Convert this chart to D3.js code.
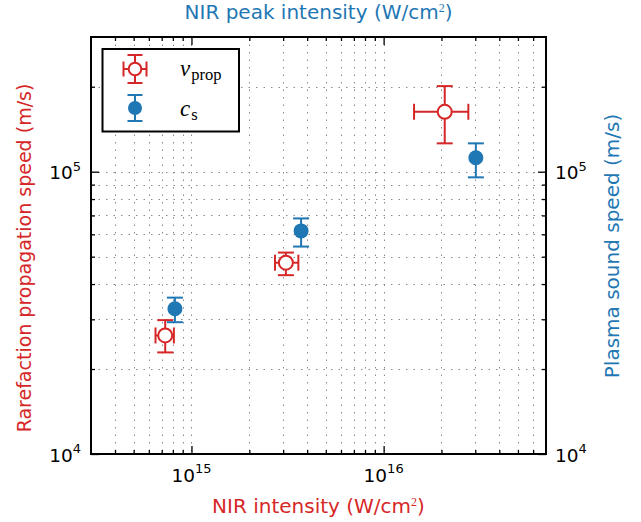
<!DOCTYPE html>
<html><head><meta charset="utf-8">
<script src="https://cdn.jsdelivr.net/npm/d3@7"></script>
<style>body{margin:0;background:#fff} svg{font-family:"DejaVu Sans",sans-serif}</style>
</head><body><svg id="c" width="641" height="522"></svg>
<script>
// ---- data ----
const seriesNames = ["v_prop", "c_s"];
const vpropX   = [7.3e14, 3.1e15, 2.08e16];
const vpropXLo = [6.5e14, 2.72e15, 1.44e16];
const vpropXHi = [8.1e14, 3.6e15, 2.76e16];
const vpropY   = [2.63e4, 4.76e4, 1.63e5];
const vpropYLo = [2.29e4, 4.30e4, 1.26e5];
const vpropYHi = [2.98e4, 5.17e4, 2.01e5];
const csX   = [8.2e14, 3.72e15, 3.02e16];
const csY   = [3.27e4, 6.17e4, 1.12e5];
const csYLo = [2.93e4, 5.43e4, 9.55e4];
const csYHi = [3.58e4, 6.83e4, 1.26e5];
const xDomain = [3e14, 7e16];
const yDomain = [1e4, 3e5];
const xTickLabels = [{v:1e15, b:"10", e:"15"}, {v:1e16, b:"10", e:"16"}];
const yTickLabels = [{v:1e4, b:"10", e:"4"}, {v:1e5, b:"10", e:"5"}];

const RED = "#d62728", BLUE = "#1f77b4";
const L = 91, R = 546, T = 37, B = 454;
const svg = d3.select("#c");
const x = d3.scaleLog().domain(xDomain).range([L, R]);
const y = d3.scaleLog().domain(yDomain).range([B, T]);

const isMajor = v => Math.abs(Math.log10(v) - Math.round(Math.log10(v))) < 1e-9;
const xt = x.ticks().filter(v => v > xDomain[0]*1.001 && v < xDomain[1]*0.999);
const yt = y.ticks().filter(v => v > yDomain[0]*1.001 && v < yDomain[1]*0.999);

// grid
const grid = svg.append("g").attr("stroke", "#8a8a8a").attr("stroke-width", 1).attr("stroke-dasharray", "1.5,6");
grid.selectAll("line.v").data(xt).join("line").attr("class","v")
  .attr("x1", d => Math.round(x(d))+0.5).attr("x2", d => Math.round(x(d))+0.5).attr("y1", T).attr("y2", B);
grid.selectAll("line.h").data(yt).join("line").attr("class","h")
  .attr("y1", d => Math.round(y(d))+0.5).attr("y2", d => Math.round(y(d))+0.5).attr("x1", L).attr("x2", R);

// data
function errbars(g, cx, cy, xlo, xhi, ylo, yhi, cap) {
  g.append("line").attr("x1", cx).attr("x2", cx).attr("y1", ylo).attr("y2", yhi);
  g.append("line").attr("x1", cx-cap).attr("x2", cx+cap).attr("y1", ylo).attr("y2", ylo);
  g.append("line").attr("x1", cx-cap).attr("x2", cx+cap).attr("y1", yhi).attr("y2", yhi);
  if (xlo !== null) {
    g.append("line").attr("x1", xlo).attr("x2", xhi).attr("y1", cy).attr("y2", cy);
    g.append("line").attr("x1", xlo).attr("x2", xlo).attr("y1", cy-cap).attr("y2", cy+cap);
    g.append("line").attr("x1", xhi).attr("x2", xhi).attr("y1", cy-cap).attr("y2", cy+cap);
  }
}
const gr = svg.append("g").attr("stroke", RED).attr("stroke-width", 2).attr("fill", "none");
vpropX.forEach((v, i) => {
  errbars(gr, x(v), y(vpropY[i]), x(vpropXLo[i]), x(vpropXHi[i]), y(vpropYLo[i]), y(vpropYHi[i]), 8);
  gr.append("circle").attr("cx", x(v)).attr("cy", y(vpropY[i])).attr("r", 7).attr("fill", "#fff");
});
const gb = svg.append("g").attr("stroke", BLUE).attr("stroke-width", 2).attr("fill", "none");
csX.forEach((v, i) => {
  errbars(gb, x(v), y(csY[i]), null, null, y(csYLo[i]), y(csYHi[i]), 8);
  gb.append("circle").attr("cx", x(v)).attr("cy", y(csY[i])).attr("r", 7.5).attr("fill", BLUE).attr("stroke", "none");
});

// ticks (inward) via d3 axes
const fmt = () => "";
function addAxis(axisFn, scale, vals, size, transform) {
  const g = svg.append("g").attr("transform", transform)
    .call(axisFn(scale).tickValues(vals).tickSize(size).tickFormat(fmt));
  g.select(".domain").remove();
  g.selectAll(".tick line").attr("stroke", "#000").attr("stroke-width", 1.3);
}
const xMaj = xt.filter(isMajor), xMin = xt.filter(v => !isMajor(v));
const yMaj = y.ticks().filter(isMajor), yMin = yt.filter(v => !isMajor(v));
addAxis(d3.axisBottom, x, xMin, -4, `translate(0,${B})`);
addAxis(d3.axisBottom, x, xMaj, -8, `translate(0,${B})`);
addAxis(d3.axisTop, x, xMin, -4, `translate(0,${T})`);
addAxis(d3.axisTop, x, xMaj, -8, `translate(0,${T})`);
addAxis(d3.axisLeft, y, yMin, -4, `translate(${L},0)`);
addAxis(d3.axisLeft, y, yMaj, -8, `translate(${L},0)`);
addAxis(d3.axisRight, y, yMin, -4, `translate(${R},0)`);
addAxis(d3.axisRight, y, yMaj, -8, `translate(${R},0)`);

svg.append("rect").attr("x", L).attr("y", T).attr("width", R-L).attr("height", B-T)
  .attr("fill", "none").attr("stroke", "#000").attr("stroke-width", 2);

// tick labels
function powLabel(g, px, py, d, anchor) {
  const t = g.append("text").attr("x", px).attr("y", py).attr("text-anchor", anchor)
    .attr("font-size", 18.5).attr("fill", "#000");
  t.append("tspan").text(d.b);
  t.append("tspan").attr("font-size", 13).attr("dy", -8.5).text(d.e);
}
const tl = svg.append("g");
xTickLabels.forEach(d => powLabel(tl, x(d.v), 481.5, d, "middle"));
yTickLabels.forEach(d => powLabel(tl, 81, y(d.v) + 7.5, d, "end"));
yTickLabels.forEach(d => powLabel(tl, 555, y(d.v) + 7.5, d, "start"));

// axis titles
function title(txt, color, tx, ty, rot, fs) {
  const t = svg.append("text").attr("transform", `translate(${tx},${ty}) rotate(${rot})`)
    .attr("text-anchor", "middle").attr("font-size", fs).attr("fill", color);
  t.append("tspan").text(txt[0]);
  if (txt.length > 1) {
    t.append("tspan").attr("font-size", 12).attr("dy", -6.5).attr("font-family", "Liberation Serif").text(txt[1]);
    t.append("tspan").attr("dy", 6.5).text(txt[2]);
  }
}
title(["NIR intensity (W/cm", "2", ")"], RED, (L+R)/2, 512.5, 0, 20);
title(["NIR peak intensity (W/cm", "2", ")"], BLUE, (L+R)/2, 18.5, 0, 20);
title(["Rarefaction propagation speed (m/s)"], RED, 31, 258, -90, 19);
title(["Plasma sound speed (m/s)"], BLUE, 618.5, 246, -90, 20);

// legend
const lg = svg.append("g");
lg.append("rect").attr("x", 102.5).attr("y", 49).attr("width", 136.5).attr("height", 82.5)
  .attr("fill", "#fff").attr("stroke", "#000").attr("stroke-width", 2);
const lr = lg.append("g").attr("stroke", RED).attr("stroke-width", 2).attr("fill", "none");
errbars(lr, 135, 69, 123.5, 146.5, 83, 55, 7.5);
lr.append("circle").attr("cx", 135).attr("cy", 69).attr("r", 6.3).attr("fill", "#fff");
const lb = lg.append("g").attr("stroke", BLUE).attr("stroke-width", 2).attr("fill", "none");
errbars(lb, 135, 108, null, null, 121, 95, 7.5);
lb.append("circle").attr("cx", 135).attr("cy", 108).attr("r", 7).attr("fill", BLUE).attr("stroke", "none");
function mathLabel(px, py, main, sub) {
  const t = lg.append("text").attr("x", px).attr("y", py).attr("font-family", "Liberation Serif").attr("fill", "#000");
  t.append("tspan").attr("font-style", "italic").attr("font-size", 23).text(main);
  t.append("tspan").attr("font-size", 16.5).attr("dx", 1).attr("dy", 4).text(sub);
}
mathLabel(180, 76, "v", "prop");
mathLabel(180, 116, "c", "s");
</script></body></html>
